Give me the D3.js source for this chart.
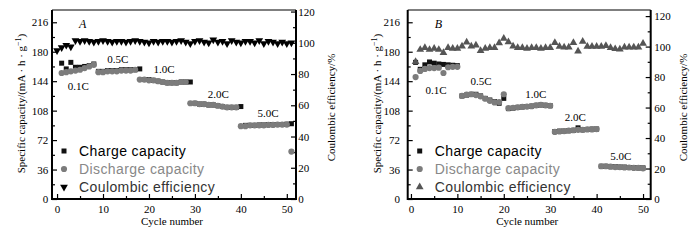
<!DOCTYPE html>
<html>
<head>
<meta charset="utf-8">
<script src="https://cdn.jsdelivr.net/npm/d3@7"></script>
<style>
body { margin: 0; background: #fff; }
text { font-family: "Liberation Serif", "Times New Roman", serif; }
</style>
</head>
<body>
<svg id="chart" width="700" height="240"></svg>
<script>
var rateLabels = ["0.1C", "0.5C", "1.0C", "2.0C", "5.0C"];
var leftTicks = [0, 36, 72, 108, 144, 180, 216];
var leftMinor = [18, 54, 90, 126, 162, 198];
var rightTicks = [0, 20, 40, 60, 80, 100, 120];
var rightMinor = [10, 30, 50, 70, 90, 110];
var cycleTicks = [0, 10, 20, 30, 40, 50];
var cycleMinor = [5, 15, 25, 35, 45];
var legendNames = ["Charge capacity", "Discharge capacity", "Coulombic efficiency"];

// panel A -- values for consecutive cycles, first cycle given by *Start
var chargeAStart = 1;
var chargeA = [166, 159, 167, 161, 161, 162, 163, 165,
  156, 156, 157, 157, 157, 158, 158, 158, 158, 159,
  146, 146, 145, 144, 143, 142, 142, 142, 143, 143, 143,
  117, 116, 116, 115, 115, 114, 113, 112, 112, 112, 113,
  90, 90, 90, 90.5, 90.5, 91, 91, 91, 91, 91.5, 92];
var dischargeAStart = 1;
var dischargeA = [154, 155, 156, 157, 158, 160, 162, 164,
  155, 155, 156, 156, 156, 157, 157, 157, 158,
  146, 146, 145, 145, 144, 143, 142, 142, 142, 143, 143,
  117, 117, 116, 116, 115, 115, 114, 113, 112, 112, 112,
  89, 89, 90, 90, 90, 90, 90.5, 90.5, 91, 91, 91,
  58];
var ceAStart = 0;
var ceA = [95, 97, 98.5, 97.5, 101.5, 101, 101.5, 101, 100.5, 101,
  101.5, 101, 100.5, 101, 101, 100.5, 101, 101.5, 101, 100.5,
  100, 101, 100.5, 101, 101, 100.5, 101, 101.5, 100.5, 99.5,
  101, 101.5, 100.5, 100, 102, 100.5, 101, 99.5, 101.5, 100.5,
  100, 101, 101, 100, 101.5, 99.5, 101, 100.5, 99.5, 100.5,
  99.5, 100];

// panel B
var chargeBStart = 1;
var chargeB = [167, 158.5, 164, 167.5, 166, 165, 164.5, 164, 163.5, 163,
  126, 127, 128, 128, 126, 123, 121, 119, 117, 123,
  110.5, 111, 112, 112.5, 113, 113.5, 114.5, 115, 114.5, 114,
  82.5, 83, 83, 83.5, 84, 87, 84.5, 85, 85.5, 85.5,
  40, 40, 39.5, 39.5, 39, 39, 38.5, 38.5, 38, 38];
var dischargeBStart = 1;
var dischargeB = [149, 156.5, 159, 160, 160, 160.5, 154, 161, 161.5, 161.5,
  126, 127.5, 128, 127, 125.5, 122.5, 120, 118, 118.5, 128,
  111, 111.5, 112, 112.5, 113, 113.5, 114.5, 115, 114.5, 114,
  82, 82.5, 83, 83.5, 84, 84.5, 84.5, 85, 85, 85.5,
  40, 40, 39.5, 39, 39, 38.5, 38.5, 38, 38, 37.5];
var ceBStart = 1;
var ceB = [90, 98, 99.3, 98, 98.7, 98, 96, 99.3, 98.7, 98.7,
  100.2, 102.8, 100.2, 100.9, 97.2, 98.7, 99.3, 99.3, 102.4, 105.3,
  103, 100.2, 99.3, 99.3, 98.7, 99.3, 99.3, 98.7, 99.3, 99.3,
  102.5, 100, 99.5, 99.5, 102.5, 97, 103.3, 100, 100, 100,
  100, 100.5, 99.3, 98.5, 98.2, 99.5, 99.5, 99.5, 99.5, 102];

function toPoints(start, values) {
  return values.map(function(v, i) { return { cycle: start + i, value: v }; });
}

var svg = d3.select("#chart");

var panels = [{
  left: 52, right: 296, top: 10, bottom: 199,
  xDomain: [-1.1, 52], capMax: 231, ceMax: 121,
  leftPad: 3.7, rightPad: 2.3, rightTitle: 39,
  letter: "A",
  charge: toPoints(chargeAStart, chargeA),
  discharge: toPoints(dischargeAStart, dischargeA),
  ce: toPoints(ceAStart, ceA),
  ceColor: "#000", ceDown: true,
  ratePos: [[4.6, 138], [13.2, 171], [23.3, 159], [35.1, 128], [45.9, 105]]
}, {
  left: 407.7, right: 650.7, top: 10, bottom: 199,
  xDomain: [-0.7, 51.65], capMax: 231, ceMax: 124,
  leftPad: 7.7, rightPad: 3.6, rightTitle: 36,
  letter: "B",
  charge: toPoints(chargeBStart, chargeB),
  discharge: toPoints(dischargeBStart, dischargeB),
  ce: toPoints(ceBStart, ceB),
  ceColor: "#555", ceDown: false,
  ratePos: [[5.4, 133], [15.1, 144], [26.9, 128], [35.4, 100], [45.2, 53]]
}];

var squareSym = d3.symbol().type(d3.symbolSquare).size(25);
var circleSym = d3.symbol().type(d3.symbolCircle).size(30);
var triSym = d3.symbol().type(d3.symbolTriangle).size(26);

function drawPanel(p) {
  var x = d3.scaleLinear().domain(p.xDomain).range([p.left, p.right]);
  var y = d3.scaleLinear().domain([0, p.capMax]).range([p.bottom, p.top]);
  var y2 = d3.scaleLinear().domain([0, p.ceMax]).range([p.bottom, p.top]);
  var g = svg.append("g");

  // axes (ticks point inward)
  function styleAxis(sel) {
    sel.select(".domain").remove();
    sel.selectAll("line").attr("stroke", "#000").attr("stroke-width", 1.2);
    sel.selectAll("text").style("font-family", "Liberation Serif").style("font-size", "11px").attr("fill", "#000");
  }
  g.append("g").attr("transform", "translate(" + p.left + ",0)")
    .call(d3.axisLeft(y).tickValues(leftTicks).tickSize(-5).tickPadding(p.leftPad))
    .call(styleAxis);
  g.append("g").attr("transform", "translate(" + p.left + ",0)")
    .call(d3.axisLeft(y).tickValues(leftMinor).tickSize(-3).tickFormat(""))
    .call(styleAxis);
  g.append("g").attr("transform", "translate(" + p.right + ",0)")
    .call(d3.axisRight(y2).tickValues(rightTicks).tickSize(-5).tickPadding(p.rightPad))
    .call(styleAxis);
  g.append("g").attr("transform", "translate(" + p.right + ",0)")
    .call(d3.axisRight(y2).tickValues(rightMinor).tickSize(-3).tickFormat(""))
    .call(styleAxis);
  g.append("g").attr("transform", "translate(0," + p.bottom + ")")
    .call(d3.axisBottom(x).tickValues(cycleTicks).tickSize(-5).tickPadding(6))
    .call(styleAxis);
  g.append("g").attr("transform", "translate(0," + p.bottom + ")")
    .call(d3.axisBottom(x).tickValues(cycleMinor).tickSize(-3).tickFormat(""))
    .call(styleAxis);

  // frame
  g.append("line").attr("x1", p.left).attr("x2", p.right).attr("y1", p.top).attr("y2", p.top)
    .attr("stroke", "#000").attr("stroke-width", 1.2);
  g.append("line").attr("x1", p.left).attr("x2", p.right).attr("y1", p.bottom).attr("y2", p.bottom)
    .attr("stroke", "#000").attr("stroke-width", 2);
  g.append("line").attr("x1", p.left).attr("x2", p.left).attr("y1", p.top).attr("y2", p.bottom + 1)
    .attr("stroke", "#000").attr("stroke-width", 2);
  g.append("line").attr("x1", p.right).attr("x2", p.right).attr("y1", p.top).attr("y2", p.bottom + 1)
    .attr("stroke", "#000").attr("stroke-width", 2);

  // data
  g.append("g").selectAll("path").data(p.charge).enter().append("path")
    .attr("d", squareSym)
    .attr("transform", function(d) { return "translate(" + x(d.cycle) + "," + y(d.value) + ")"; })
    .attr("fill", "#111");
  g.append("g").selectAll("path").data(p.discharge).enter().append("path")
    .attr("d", circleSym)
    .attr("transform", function(d) { return "translate(" + x(d.cycle) + "," + y(d.value) + ")"; })
    .attr("fill", "#7c7c7c");
  g.append("g").selectAll("path").data(p.ce).enter().append("path")
    .attr("d", triSym)
    .attr("transform", function(d) {
      return "translate(" + x(d.cycle) + "," + y2(d.value) + ")" + (p.ceDown ? " rotate(180)" : "");
    })
    .attr("fill", p.ceColor);

  // rate labels
  g.append("g").selectAll("text").data(rateLabels).enter().append("text")
    .attr("x", function(d, i) { return x(p.ratePos[i][0]); })
    .attr("y", function(d, i) { return y(p.ratePos[i][1]) + 4; })
    .attr("text-anchor", "middle")
    .style("font-size", "11px")
    .text(function(d) { return d; });

  // panel letter
  g.append("text").attr("x", p.left + 27).attr("y", 28)
    .style("font-size", "12px").style("font-style", "italic")
    .text(p.letter);

  // axis titles
  var lt = g.append("text")
    .attr("transform", "translate(" + (p.left - 27) + "," + ((p.top + p.bottom) / 2 - 1) + ") rotate(-90)")
    .attr("text-anchor", "middle")
    .style("font-size", "11px");
  lt.append("tspan").text("Specific capacity/(mA \u00b7 h \u00b7 g");
  lt.append("tspan").attr("dy", -4).style("font-size", "8px").text("\u22121");
  lt.append("tspan").attr("dy", 4).text(")");

  g.append("text")
    .attr("transform", "translate(" + (p.right + p.rightTitle) + "," + ((p.top + p.bottom) / 2 + 3) + ") rotate(-90)")
    .attr("text-anchor", "middle")
    .style("font-size", "11px")
    .text("Coulombic efficiency/%");

  g.append("text")
    .attr("x", (p.left + p.right) / 2 - 2).attr("y", 225)
    .attr("text-anchor", "middle")
    .style("font-size", "11px")
    .text("Cycle number");

  // legend
  var lx = p.left + 12;
  var rows = [151, 169, 187];
  var legendColors = ["#000", "#888", "#333"];
  var syms = [squareSym, circleSym, triSym];
  var symColors = ["#111", "#7c7c7c", p.ceColor];
  rows.forEach(function(ry, i) {
    g.append("path").attr("d", syms[i])
      .attr("transform", "translate(" + lx + "," + ry + ")" + (i == 2 && p.ceDown ? " rotate(180)" : ""))
      .attr("fill", symColors[i]);
    g.append("text").attr("x", lx + 15).attr("y", ry + 5)
      .style("font-family", "Liberation Sans").style("font-size", "14px")
      .style("letter-spacing", "0.4px")
      .attr("fill", legendColors[i])
      .text(legendNames[i]);
  });
}

panels.forEach(drawPanel);
</script>
</body>
</html>
